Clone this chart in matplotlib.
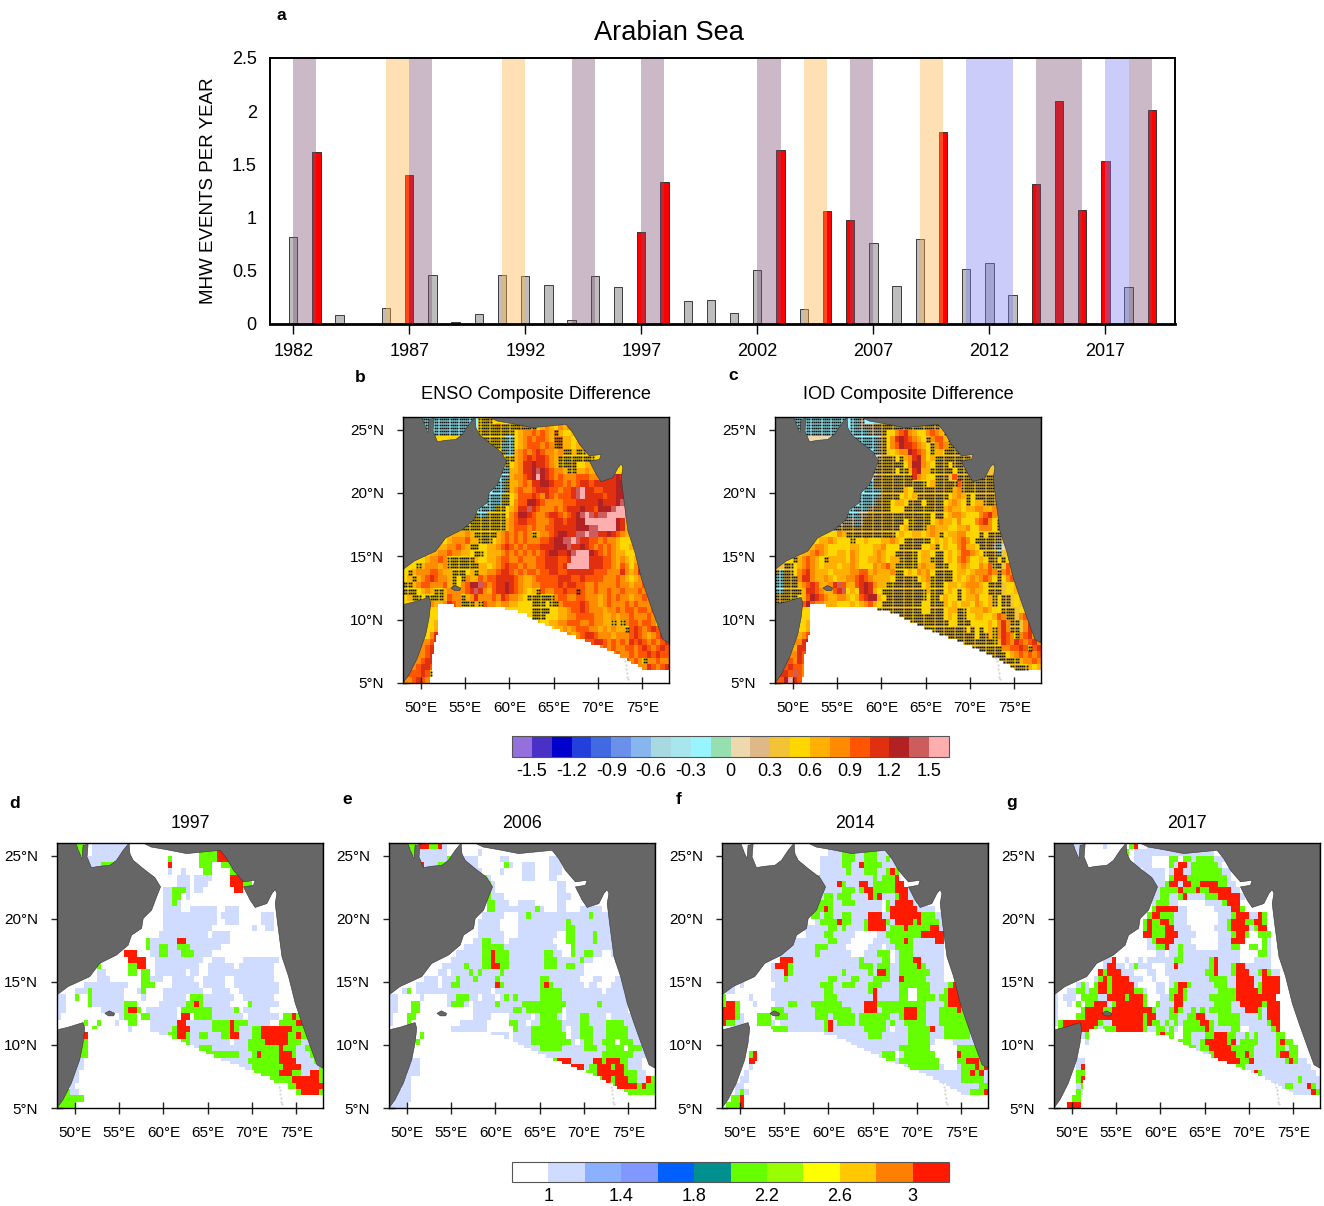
import numpy as np
import matplotlib
matplotlib.use('Agg')
import matplotlib.pyplot as plt
from matplotlib.colors import ListedColormap, BoundaryNorm
from matplotlib.colorbar import ColorbarBase
from matplotlib.path import Path

plt.rcParams['font.family'] = ['Liberation Sans', 'DejaVu Sans']

W, H = 1324, 1206

# panel a
years = list(range(1982, 2020))
events = [0.82, 1.62, 0.08, 0.0, 0.15, 1.40, 0.46, 0.02, 0.09, 0.46,
          0.45, 0.37, 0.04, 0.45, 0.35, 0.86, 1.33, 0.22, 0.23, 0.10,
          0.51, 1.64, 0.14, 1.06, 0.98, 0.76, 0.36, 0.80, 1.80, 0.52,
          0.57, 0.27, 1.32, 2.10, 1.07, 1.53, 0.35, 2.01]
enso_years = [1982, 1987, 1994, 1997, 2002, 2006, 2014, 2015, 2018]
iod_years = [1986, 1991, 2004, 2009]
nina_years = [2011, 2012, 2017]
year_ticks = [1982, 1987, 1992, 1997, 2002, 2007, 2012, 2017]
count_ticks = [0, 0.5, 1, 1.5, 2, 2.5]
count_labels = ['0', '0.5', '1', '1.5', '2', '2.5']

# coastlines
arabia_lon = [48, 50.11, 50.56, 50.83, 50.94, 51.51, 51.39, 51.88, 52.82, 53.96, 54.71, 55.46, 56.14,
              56.22, 56.59, 57.72, 59.04, 59.68, 59.23, 58.67, 57.72, 57.54, 56.41, 56.03, 54.71,
              52.82, 51.69, 49.24, 48]
arabia_lat = [26, 26, 25.16, 24.76, 25.82, 25.9, 24.9, 24.05, 24.16, 24.23, 24.63, 25.42, 26,
              25.16, 24.63, 23.97, 23.26, 22.52, 21.73, 20.68, 20.02, 19.23, 18.7, 17.91, 17.12,
              16.46, 15.41, 14.62, 13.96]
india_lon = [57.69, 58.63, 60.36, 62.62, 64.51, 66.39, 67.15, 67.9, 69.03, 70.35, 70.16, 69.03, 69.79,
             70.35, 71.67, 72.24, 72.61, 72.8, 72.61, 72.88, 73.37, 74.12, 74.87, 75.63, 76.57,
             77.33, 78, 78]
india_lat = [26, 25.68, 25.47, 25.16, 25.29, 25.42, 24.76, 23.84, 22.92, 23.05, 22.65, 22.52, 21.47,
             20.89, 21.2, 22, 22.31, 22, 21.2, 19.62, 16.99, 15.41, 13.3, 11.72, 9.87,
             8.42, 8.16, 26]
somalia_lon = [48, 49.24, 50.94, 51.13, 50.94, 50.56, 49.62, 48.68, 48]
somalia_lat = [11.19, 11.4, 11.77, 11.32, 10.14, 8.82, 6.97, 5.66, 5]
socotra_lon = [53.4, 53.9, 54.5, 54.4, 53.8]
socotra_lat = [12.5, 12.7, 12.5, 12.3, 12.3]
maldives_lon = [72.95, 73.05, 73.1, 73.2, 73.25, 73.3, 73.35]
maldives_lat = [7.0, 6.7, 6.4, 6.1, 5.8, 5.5, 5.3]
nodata_lon = [52, 58.6, 61.6, 64.6, 68.35, 72.1, 75.1, 78.2, 78.2, 51, 51.5, 52]
nodata_lat = [11.15, 11.05, 10.5, 9.4, 8.4, 7.3, 6.1, 6.1, 4.8, 4.8, 8, 9]

# colour keys of the grids below, 0.5 degree cells, north to south
diff_key = {'a': -0.2, 'b': 0.07, 'c': 0.37, 'd': 0.52, 'e': 0.67, 'f': 0.82,
            'g': 0.97, 'h': 1.12, 'i': 1.27, 'j': 1.42, 'k': 1.6}
cat_key = {'b': 1.1, 'g': 2.1, 'r': 3.1}

enso_rows = [
    "....AA.AAA AAAAAA.DDE",
    ".....A.AAA AAAAAA.DDD DEDDDDEDDD defedfe",
    ".......AAA AAAAAA.DDD DDDDDdeffg fgfeFedded d",
    "......dddd dddddddDDD DDDAAdefgf ggfeFFeedd e",
    ".......... .........D DDAAAdefgg gfgfEFeede ed",
    ".......... .......... ..DAAefgfg hgffefDDeD Deee",
    ".......... .......... ...DDefghg hhgfeEDDDD DDDd",
    ".......... .......... ...Ddefhhi hhgfeDDDEd deee",
    ".......... .......... ..AAeefhhi jihgffeDDe efee",
    ".......... .......... ..AAeffghi kihgfgfffg ggfffghhih",
    ".......... .......... .AADeefgfh hiihggfgfg hhghhhhhii",
    ".......... .......... AAADefgffg hhhggfgghj khhgghhhii",
    ".......... .........A AADDdegggh gfhgfggghj khhhhghhii j",
    ".......... .........A AADDdfggii hgffffgggh hhhhihhhij kf",
    ".......... .......AAA ADDdefhhjh gfffgfghhh ihhgiiijkk gf",
    ".......... ......DAAD DDDdfgiihg ffghhgfghi jkjhjjkkkk fe",
    ".......... .....DDDDD DDDefghhgg fffghhghhi ikkkkkkkih ed",
    ".......... ...DDDDDDD DDDefgggfg ffgghhhhhi iijjkkkkih ed",
    ".......... ..eefeDDDD DefgfgfgfD effghiihhj jkjjhhihgf ed",
    "......dded efffgeeDDD defgfgfgff fgghiijjkj hhggfgffed dd",
    "......ddee ffgfeDDdde efghgfgfgg ghhhiiijhh ihgfgfgfed de",
    ".....deeff gffeedDDde eefgfgfgfg fghiihhijk kkihgfgfee dd",
    "...ddeffgf DDDDDDedde efggffgfff gghhhgghkk kkhhhggfef ed",
    "..dDefffef DDDDDDDeed efghggfgff gghhhghkkk kkhhhggfeg fd",
    "dDefffggfe eDDDdeDeef fghhgfgfgg fgghhgghhh hhhgggfffh fe",
    "deDefghgff eDdDfeegfg ghhhhgfeef ggggghhhgg hggggfffgf ed",
    "DDefggfffg eDdfgiijgf ghhihgfeef fgggghghhg gffgffffgf fe",
    "DDDdefeDDe ffffghjhfe ghhihgfede DgffgghggG gffgffgffg ff",
    "deDDdDDDDe gffDefhfff gfhgffedDD DDDDfggffg gfffefgfgf fe",
    "ddddddfeef hgfDDDeDgf feffeedddD DDdDDfgggg hgffefgfff gf",
    "......ddee ddddddddde eedddddddD DDDddeefgg hgfffeffgf ggf",
    "......ddee dddddddddd dddddddddD DDdddeeffg gggffeefef fgff",
    "......defe dddddddddd ddddddddde eddeeffggg ffgffeeDeD fggf",
    "......deff dddddddddd dddddddddd ddddeefefg ggffefefee Dghgf",
    ".....dfhhf dddddddddd dddddddddd ddddddefef ghhgfffeff fghgfe",
    ".....fghif dddddddddd dddddddddd dddddddeef fgghhgfgfg fhghgfg",
    "....fghgfe dddddddddd dddddddddd ddddddddde feggfgfgff ggfghgf",
    "....fghgfe dddddddddd dddddddddd dddddddddd dddeffefgf fgfgghg",
    "...fghhgfe dddddddddd dddddddddd dddddddddd ddddddefef gfgfDffg",
    "..fghhgDef dddddddddd dddddddddd dddddddddd ddddddddde gfgffhgf",
    "..gghgDDe",
    ".fghgfDe",
]

iod_rows = [
    "....AA.AAA AAAAAA.AAB",
    ".....A.AAA AAAAAA.AAB BBCCCCCCCC CCCCCCC",
    ".......AAA AAAAAA.AAA ABBBCddfgh feddfgfeCC C",
    "......bbbb bbbbbbbAAA AAABCdfhih gfedCfggeC C",
    ".......... .........A AAABCdfgih hgfedCfgfD CC",
    ".......... .......... ..ABCcdeff ihgfdDeeDC CCC",
    ".......... .......... ...BCCCdDe fhifdeDCCC CCCC",
    ".......... .......... ...CCDCCDd fiifedDCDd CCCC",
    ".......... .......... ..BCCCCdDD ehieeDDCCC dDCC",
    ".......... .......... ..BCCDCCDC DhfeddDCCc gCCCCCCCCC",
    ".......... .......... .ACCCCCCDC CCCDdeDCCC CgCCCCCCCC",
    ".......... .......... AAAACCCCDe dDCCCCCCCD efCCDCCCCC",
    ".......... .........A AAABCCCDde deDCCCCCDd efeDdCCCCC C",
    ".......... .........A AABCCDdeed CCCdDCCDde fedCdeeCCC C",
    ".......... .......AAA ABCCCDdddC CCCDDCCCef eedeeffeef C",
    ".......... ......AAAB BCCCCCCDCC CCDDDdCCde ffedddfghf eC",
    ".......... .....BBBAB CCCCCCCCCd DDCCDdefee dfdddfghfd C",
    ".......... ...BCCCCCC CCCCCCCCde DCCDefeeed deefddfffd C",
    ".......... ..ddfeCCCC CCCCCDCded deedefeDde effdddCdCC C",
    "......dded eefedddDdd edddeefedD CCCCDdeded efgfdDCCCC B",
    "......deef fedddddeed ddeefdddCC CCCddeDded dfgeedCCCB A",
    ".....deefg feddeedfed ddefeddDCC CDdeedDCde deggfedCCC A",
    "...dDefgfe dDeeeedfed deefedeeDC CDdeeDCCde dfgfddedCC dC",
    "..CCdefgfe deeedeefed ddfefgeDDD DDefeeDCDd defeddfegC C",
    "CACCdfghfe eedeeeeffg gefeeefDDd edfefdCCCD deedefffgf C",
    "AACCCfhhfe efedeeffgh gfeeeedDCC CCdefDCCCC dedefefgfd C",
    "AACCCefghg eefhjgeegh ihfeeDDCCC CCCdeDCDde edefffedDC C",
    "AACCCDehhg feeghjdedh ihedDDCCCC CCCDeDCCde dCdefeedDC D",
    "CCCDDdegih gfeeffedeg hiiedCCCCC CCCDdDCded dCdeefddeC dCC",
    "CCDddfgigf feeedddede fgedCCCCCC CDDddCCDed edeedfedeC dCC",
    "......ddee dddddddddd dddDCCCCCC CCDddCCCde eCDdeeefed dDCC",
    "......ddee dddddddddd dddddCCCCC CDCDCCCCde dCCddeedde gfCC",
    "......deed dddddddddd dddddddCCC CCCCDCCCCd dDCCdddded fhfCC",
    "......deff dddddddddd dddddddddd DCCCCDCCCD CCCdCdDdeD fhfCC",
    ".....efgfe dddddddddd dddddddddd ddddddCDCC CDCCCdCCeD fhgfD",
    ".....fhife dddddddddd dddddddddd ddddddddDC CCDCCCDCCD ehgfhgf",
    "....ehhgfe dddddddddd dddddddddd dddddddddd CCCCCDCCDC DffgghgD",
    "....fhgfee dddddddddd dddddddddd dddddddddd dddCCCCDCC CDdefgfgf",
    "...gfhgfe. dddddddddd dddddddddd dddddddddd ddddddCCCC CCCCDeffg",
    "..ghggfe.. dddddddddd dddddddddd dddddddddd ddddddddCD CCCDCDDed",
    "..hgjgf",
    ".gikhgf",
]

y1997_rows = [
    "....gg..bb bbbbbb",
    ".....g..bb bbbbb..... .......... ..ggggrrr.",
    ".......bbb bbbb...... .....g.... ..ggggrrrg",
    ".......bbb gggb...... .....r.... ..ggg..ggg",
    ".......... .......... .....b..b. ...gg....g gg",
    ".......... .......... .......bbb .bbbb....r rrg",
    ".......... .......... .......bbb .bbb.....r rrgg",
    ".......... .......... ....bbgggb .bb....... rr",
    ".......... .......... ....bbgg.b",
    ".......... .......... ....bbgb..",
    ".......... .......... ....bbbb.. bbbbbb..bb b",
    ".......... .......... ....bbbbbb bbbbbb.bbb b.....bbb",
    ".......... .......... ....bbbbbb bbbbbb..bb b.....bbb",
    ".......... .......... ....bbbbbb bbbbb..... ....b..bb",
    ".......... .......... ...bbbbbbb bbbb.bbbb",
    ".......... .......... gbbbbbbrrb bbbbbbbbb.",
    ".......... .......... gbbggbbggg bbbbbbb",
    ".......... .....rrr.. .bbggbbbgg gbbbb",
    ".......... ......rrrr ..bbbbbbbb bbb..bbb.. ..bbbbbbbb",
    ".........g ......ggrr ..bbbbbbbb bb..bbbbbb .bbbbbbbb",
    ".........b b.....gg.g g.bbbbbbb. bb..bbbbbb bbbbbbbbb",
    ".........b bb.......g gbbb..bbbb b..bbbbb.. bbbbbbbbb",
    "......bbbb bbbbbb...g gg....bbbb bb.bbbbb.. bbbbbbbbbb",
    "....bbbgbb bbbbb...bg ....bbbbbb bbb..bbbb. .bbbbbbbbb",
    "bb..g..gbb bbbbb....b ....bbbbb. gggbbbbbbb ..bbbbbbb",
    "bb.....gbb bbbbbggg.. ...bbbbbbg grgbbbbbb. ...gbbbbbb",
    "bb........ bbbbbgrrg. bbbbbbb.gg gggggbbbbb g.bbbbbb..",
    "b......... ....bggg.g gbbbbbb.rr .ggggbbbbb bb.bbbbbbb .ggrg",
    "......g..g ...b..gg.. .bbbbbbrrb bbbbbggggr gggbbbbb.. ggggrrg",
    "........g. ......b... .bbbbbgrrr bbbbbggggr gbbbggrrrr rrrgggg",
    ".....gr... .......... ..bbbggrrg bbggbbbggr rbbbggrrrr rrggrggg",
    ".....gg... .......... ....bbbggg bbbbbbbbb. bbbggggrrr rrgggbbgg",
    ".....gg... .......... .......... .bgggbbbbb bbbggggggg rgggbbgg",
    ".....gg... .......... .......... ...ggggggg gbbbgrgggg rrrgbbbggb",
    "....bb.... .......... .......... ......bbbb bbbggggggg rrrrbbbbgg",
    "....bb.... .......... .......... .........b bbbbgggggg grrrrbbbbg",
    "...bb..... .......... .......... .......... ....gggggg rrrggbbrrg",
    "...bb..... .......... .......... .......... ........gg gggrrrrrrg",
    "...b...... .......... .......... .......... .......... ..ggrrrrrr",
    "..gbb..... .......... .......... .......... .......... ....grrrrg",
    ".ggggg....",
    "gggg......",
]

y2006_rows = [
    "....gg.rrg grb",
    ".....g.bbb bbb....... b",
    ".......bbb bbbgg..bbb .....bb... ......bbb",
    ".......rbb bgg....bbb ......gb.. bbb...bbb",
    ".......... ........bb b....b.... bbb...bbb.",
    ".......... .......... .gb....... bbb...bb..",
    ".......... .......... ..gb...... ........bb",
    ".......... .......... ..gb...... ........bb",
    ".......... .......... ..gbbb.... ........bb b",
    ".......... .......... ..ggbbb..b bbb.....bb",
    ".......... .......... ..ggbbbbbb bbbgb...bb ...bbbbb",
    ".......... .......... .bbbbb...b bgbbbbbbbb bbbbbgbbbb bbb",
    ".......... .......... bbbbb....b bbbbbbbbbb gbbbbbbbbb gbb",
    ".......... .......... bbbbb....b bbbbbbbbbb ggbbbbbbbb ggb",
    ".......... .......... bbbbbb...b bbbbbbbb.. ggbbbbgbbb bbb",
    ".......... .........b bggbbb.bbb bbbbbbb... ggbbbbgbbb bbb",
    ".......... .......bbb bgggggbbbb bbbbbbbb.. .gbbbbbbbb bbb",
    ".......... .....bbbbb bggrgggbbb bbbbbggbb. .gbbggbb.. bbb",
    ".......... ....bbbbbb bggrgggbbb bbbbbgggbb bbbgbb.... .bb",
    ".......... ..bbbbbgbb bggrrggbbb bbbbbgggbb ggbb...... ..b",
    ".......... .bb.bbbbgb gbbbbgbbbb bbbbbbbbbb bbbb...... ....b",
    "........bb b.bbbgbbbg bbbbgbbbbb bbbbggbbbb bbb...bb.. .bb",
    "......bbbb b.bbggbbbb bbbbrgbbbb bbbbgrgbbb bbbb.bb... bbb",
    "...bg.bbbb bbbbbbbbbb bbb.bbbbbb bbbbgggggb bbbbbbbb.b bbb",
    "bb.....b.. ...bbgggbb .bbb.bgbgb bbbbgggggb bbbbbbbbbb bbbb",
    "bb...gg... ...bgggb.b bbbbgbbbbb gggggggggg bbbbbbbgbb bbbb",
    "bb...gg... .........b bbbbbbbbgg bgggggggg. bbbbbbbbbb bbbb",
    "b...gg.... .........b bbb....bbb bb.bggggb. bbbggbbbb. bbbbbb",
    "b...g..... ......bbbb bb.....ggb b.bbgggggb bbbggbbbbg gggbbbb",
    ".......... ....bbbbbb bb......gb bbgggggggb .bbgggbbbg ggggbbbb",
    ".....g.gg. ....bbbbbb b.bbbbb.bb bbgggggggg .bbgggbbbg ggggbbbb",
    "......g.g. ....bbbbbb bbbbbbbbbb bbgggggggg gb.bggbbgg g.gggbbb",
    ".......... .......... .bbbbbbbbb bbbbgggggb bbbbgggbbg ggg.gggbb",
    ".......... .......... .....bbbbb bbbbbbbbbb bbbbbbbbgg gggggbbb",
    ".....bb... .......... .........b bbbbbbbgrr rbbbbbrrgr rrggbbb",
    "....bbb... .......... .......... bbgbbbbgrr rrrrbggrrr grrgbbb",
    "....bbb... .......... .......... .......... rrrrgggrrr rrrgggbb",
    "...bb..... .......... .......... .......... ....rrggrr grrrggbbrg",
    "...bb..... .......... .......... .......... ........gg grrrrrgrgg",
    "..bbb..... .......... .......... .......... .......... gggggggggg",
    ".bbbb..... .......... .......... .......... .......... ...gbbgrrr",
    "bbbb......",
]

y2014_rows = [
    "..........",
    ".......... .......... ....bbbggg bbgggbbbb",
    ".......... .......... ..bbbbbggg bbgggbbgb",
    ".......... .......... ..bbbbbggb brggggbbbb",
    ".......... .......... ..bbbbbbgb bbgggbbgrg",
    ".......... .......... .gbbbbbbbb bbbbgbgggr",
    ".......... .......... ggbbbbrgbb brrbgggggr r",
    ".......... ......r... ggbbbbbggg bgrrgggggr rrb",
    ".......... .......... .bbggbgggb bbbrgrbbbg rrbb",
    ".......... .......... bggggbbggg bbbbbb.gbr rrrb",
    ".......... .......... bggrgbbbbb bbbbbb.grr rrrrbbbb",
    ".......... .......... ggbggbbggb bbbrrrbbrr rrrrrgggbb",
    ".......... .......... .bggggrggb bbgrrrrgbr rrrgrggggb",
    ".......... ........bb bbbbggbgbb bbgrrrrbgg grgggggrrb",
    ".......... .........b bbbggbbbbb .....bbggg gggggrrrrr",
    ".......... .....bbbbb bbbbggbbb. ....bbbbgg grgbbbbbrr",
    ".......... ...bbbbbbb bgggbbbb.. ...bbb.bbg gggbbbbbbb",
    ".......... ..bbbbbbbb bgbbbbbbb. ..bbbggg.b gggbbbbbbb",
    ".......... ...rrrbbbb bbbbbbbbbb bgbbbbgg.b gggrrbbbbb",
    ".......... .brrrgbbbb bbbbbbbbbb bgggbgggbb ggggrgbbbb",
    "...bb..... .bbbrgbbbb bbbbbbbgbb bbbgbrrgbb gggggggbbb",
    "...bb..... .bbbgbbbbb bbbbggbbbg gbbbggggbb rgggggbbbb",
    "..b.b..... ..bbbbbbbb bbgggbbggg bbbgggbbbb gggggggbbb bgrrr",
    ".bb....... .bbbbbbbbb bbbggbbbbb bbbgrbbbbb gg..gggbbb grrrrr",
    "g.....b... .bbbbbbbbb bbbgggbbbb bbbbrbbbbb gg..ggggbg grrrgg",
    "grrg...b.. ..bbbggbbb gggggggbbb bbrrrggggg ggggggbbbb grrrggg",
    "rrrg...... .gggbbbbbb bggggggggb bbrrrbgggg grrrggbbbg gggrgggg",
    "rrrgb...gg g.gggbbbbb bgggbggggg bgggggggbb grrrggbbbg ggggggggg",
    "rggbb...gg gb.bbbbbbb bbbgrbgggg bggggggbgb bgggggbbbg gggggggg",
    "..bb...... .ggggbbbbb bbbgrbbbbb bbgggggb.b bbgggggrbb gggggggbg",
    ".......... gggggbbbbb bbbbbbbbbb bbbgggbbbb bbgggggbbb ggggggbbb",
    ".......... rgggggrbbb bbbbbbbbbb bbbbbbbbbb bbgggggb.. ..bbbbbbb",
    ".......... .......... ..ggggbbbb bbbbbbbbbb ggggggg... ...ggggggb",
    "......gr.. .......... .....bbbbb bbbbbbggg. bggggggg.. ...rgggggb",
    "......rr.. .......... .........b bbbbbggggb ggggggggg. ...ggrrrgr",
    "......b... .......... .......... ....bbgggg bbgggggggb ...bgggrgr",
    ".....b.... .......... .......... .........b bbbbbbbbbb bbbbggrgrb",
    "....bb.... .......... .......... .......... ......bbbb bbbbgggggb",
    "...bb..... .......... .......... .......... .......... bbbbbbbbgg",
    "...bgb.... .......... .......... .......... .......... bbbbbbgggr",
    "..ggr.....",
    ".gggr.....",
]

y2017_rows = [
    "....bb.... .b.....gr. .bb",
    ".....b.... ......g.bb bbbbbbbbbb bbbbbb",
    ".......... ........bb bb....gg.g gbggggbbb",
    ".......... ........bb bb....gbrr bggggggb",
    ".......... ..........b bbbb.brrbb gggggggbb",
    ".......... .......... .bbbb.grrr gggggggggb",
    ".......... .......... .bbbbgrrbr rggrrrrggb b",
    ".......... .......... ..bbggggrg ggrggrrrrr bb",
    ".......... .......... ..bbggbbgr bbbbgggrrr rrb",
    ".......... .......... ..bgggbb.. ....bbbbgr rr",
    ".......... .......... ..grrrrrbb ......bbbb rrg",
    ".......... .......... .grrgggbbb .......bbb grrrbbrg",
    ".......... .......... grggrrgbbb .......bbg rrrggrrg",
    ".......... .......... grgggrrbbb b.....bbbg rrrrbgrr",
    ".......... .......... rrgggrrrbb bb.....bbb grrg..ggg",
    ".......... .......... .bgrrrrbbb b......bbb rrr....gb",
    ".......... .......... .bbggrbbgb bb.....bbb gg..gg.gb",
    ".......... ..b....... ...bb.bbgb bbbbbbbbbb bb....ggb",
    ".......... .bbr..b..b .bbbbbbggb bbbbbgrbbb bb...bbbb",
    ".......... .brrbb.bgb bb...bbrbb bbbbbgrbbb grrbbbbbb",
    ".......... rgrrrbbb.. .bb..bbbbb bbbbggrbbb grrrbbgrgbb",
    ".........b grgrrrrbbb ..b...bbbb bbbbbggggb brrrrbbrrrr",
    ".....bgb.g rrgrrrrrb. ...bb.bgrr gbbbbbgggb brrrrbgrrrr",
    "...bbggbgg rrgrrrrrgg b..bb.ggrg bbbbbbbggg grrrrrgrrrr",
    "b.bbb.gggg bbrrrrgrrr g...bbgrrg bbbbbggggg grrrrrrrrr",
    "b..b.g.ggr rrbgrrrrrr g..gbbbrrb bbbbbbgggg bbrrrrrgrrr",
    "b.....grrr rggrrrrrrr rrgbbbgrgb bgbgbggggg bbbrrrgbrrr",
    "b....ggrrr rrrrrrrrrr grrbbbggbb ggrrbbbggg ggbbbbgbrrr",
    "bgrrrrrrrr gbbrrrrrrr grggbgbgbg gggrrgbggg ggbbbbbbgrr",
    ".grrrrrrrg bgggrrrrrr gbbggbgb.g ggggrgbbbb gg..bbbbbgr",
    "..ggbrbgg. bbbgrrrrrg gbbgrgg..g gbbbggrrrg gbbgbgbbbb gg",
    ".......bb. bgggbgggbg bbgrgggbgg gbbgrrrrrg rbggggbbbb grgg",
    ".......... ...ggggggg bbgrrggggg ggbggrrrrr gggggbbbbb ggbgg",
    ".......... .......... .bbbbbbbrg rrbbbgrrrr rggrgbbbbb grrgg",
    ".....bb... .......... .........g grrbbggrrr rrggrbbbbb bbgrgbb",
    ".....br... .......... .......... .bbbggrrrr rggbbbbbbb bbbbbbbb",
    ".....gg... .......... .......... .....bbbrr rbbbbrgbbb bbbbbbbbb",
    ".....gr... .......... .......... ........br bbbbbggbbb bbbbbgbbbb",
    ".....bg... .......... .......... .......... ....bbbggb bbggbbbrgb",
    ".....gb... .......... .......... .......... ......bbbb bbbbbbbbrg",
    "....gg.... .......... .......... .......... .......... bbbbbbgggb",
    "...rrrr... .......... .......... .......... .......... ...bbbgggb",
]

diff_ticks = [-1.5, -1.2, -0.9, -0.6, -0.3, 0, 0.3, 0.6, 0.9, 1.2, 1.5]
diff_labels = ['-1.5', '-1.2', '-0.9', '-0.6', '-0.3', '0', '0.3', '0.6', '0.9', '1.2', '1.5']
cat_ticks = [1, 1.4, 1.8, 2.2, 2.6, 3]
cat_labels = ['1', '1.4', '1.8', '2.2', '2.6', '3']
lon_ticks = [50, 55, 60, 65, 70, 75]
lat_ticks = [5, 10, 15, 20, 25]

diff_colors = ['#9370DB', '#4B30C8', '#0000CD', '#2440DC', '#4169E1', '#6A90EA', '#87B5EE', '#A8D8E0',
               '#A8E6EE', '#98F5FF', '#98DFB0', '#EED8AE', '#DEB887', '#F2C435', '#FFD700', '#FFB000',
               '#FF8C00', '#FF5500', '#E03010', '#B22222', '#CD5C5C', '#FFAEB0']
cat_colors = ['#FFFFFF', '#D0DCFF', '#8AB0FF', '#8098FF', '#0060FF', '#009090', '#66FF00', '#99FF00',
              '#FFFF00', '#FFC800', '#FF7F00', '#FF1A00']

diff_cmap = ListedColormap(diff_colors)
diff_norm = BoundaryNorm(np.arange(-1.65, 1.66, 0.15), 22)
cat_cmap = ListedColormap(cat_colors)
cat_norm = BoundaryNorm(np.arange(0.8, 3.21, 0.2), 12)

lon_edges = np.arange(48, 78.01, 0.25)
lat_edges = np.arange(26, 4.99, -0.25)
lon_mid = (lon_edges[:-1] + lon_edges[1:]) / 2
lat_mid = (lat_edges[:-1] + lat_edges[1:]) / 2
lon_grid, lat_grid = np.meshgrid(lon_mid, lat_mid)
nodata_path = Path(list(zip(nodata_lon, nodata_lat)))
nodata = nodata_path.contains_points(np.c_[lon_grid.ravel(), lat_grid.ravel()]).reshape(lon_grid.shape)


def px_axes(fig, left, top, right, bottom):
    return fig.add_axes([left / W, 1 - bottom / H, (right - left) / W, (bottom - top) / H])


def read_rows(rows, key, fill):
    vals = np.full((42, 60), np.nan)
    dots = np.zeros((42, 60), dtype=bool)
    for j, row in enumerate(rows):
        row = row.replace(' ', '').ljust(60, '.')[:60]
        for i, ch in enumerate(row):
            if ch != '.':
                vals[j, i] = key[ch.lower()]
                dots[j, i] = ch.isupper()
        if fill:
            # mirror the typed cells under the coast, the land polygons hide the rest
            last = np.flatnonzero(~np.isnan(vals[j]))[-1]
            for i in range(last + 1, 60):
                vals[j, i] = vals[j, max(2 * last - i, 0)]
            for i in range(1, 60):
                if np.isnan(vals[j, i]):
                    vals[j, i] = vals[j, i - 1]
            for i in range(58, -1, -1):
                if np.isnan(vals[j, i]):
                    vals[j, i] = vals[j, i + 1]
    vals = np.repeat(np.repeat(vals, 2, axis=0), 2, axis=1)
    dots = np.repeat(np.repeat(dots, 2, axis=0), 2, axis=1)
    vals[nodata] = np.nan
    dots[nodata] = False
    return vals, dots


def draw_map(ax, rows, key, cmap, norm, title, title_size, title_pad, fill=False):
    vals, dots = read_rows(rows, key, fill)
    ax.pcolormesh(lon_edges, lat_edges, np.ma.masked_invalid(vals), cmap=cmap, norm=norm,
                  zorder=1, rasterized=True)
    if dots.any():
        ax.plot(lon_grid[dots], lat_grid[dots], 's', ms=1.35, mew=0, color='#111111', zorder=2)
    for lo, la in [(arabia_lon, arabia_lat), (india_lon, india_lat), (somalia_lon, somalia_lat),
                   (socotra_lon, socotra_lat)]:
        ax.fill(lo, la, facecolor='#666666', edgecolor='#333333', lw=0.4, zorder=3)
    ax.plot(maldives_lon, maldives_lat, '.', ms=1.0, color='#cccccc', zorder=2)
    ax.set_xlim(48, 78)
    ax.set_ylim(5, 26)
    ax.set_xticks(lon_ticks)
    ax.set_xticklabels([f'{v}°E' for v in lon_ticks])
    ax.set_yticks(lat_ticks)
    ax.set_yticklabels([f'{v}°N' for v in lat_ticks])
    ax.tick_params(direction='inout', length=8, width=1, labelsize=11, pad=9, color='#222222')
    ax.tick_params(axis='y', length=9, pad=9)
    ax.set_title(title, fontsize=title_size, pad=title_pad)
    for s in ax.spines.values():
        s.set_linewidth(1)
        s.set_zorder(5)


fig = plt.figure(figsize=(W / 100, H / 100), dpi=100)

# panel a: bars below translucent climate bands
ax_a = px_axes(fig, 270, 58, 1175, 324)
bar_colors = ['#ff0000' if v > 0.85 else '#bdbdbd' for v in events]
ax_a.bar(years, events, width=0.36, color=bar_colors, edgecolor='#222222', linewidth=0.6, zorder=2)
for yr in enso_years:
    ax_a.axvspan(yr, yr + 1, color='#7d5273', alpha=0.4, lw=0, zorder=3)
for yr in iod_years:
    ax_a.axvspan(yr, yr + 1, color='#ffb347', alpha=0.4, lw=0, zorder=3)
for yr in nina_years:
    ax_a.axvspan(yr, yr + 1, color='#8080f5', alpha=0.4, lw=0, zorder=3)
ax_a.set_xlim(1981, 2020)
ax_a.set_ylim(0, 2.5)
ax_a.set_xticks(year_ticks)
ax_a.set_yticks(count_ticks)
ax_a.set_yticklabels(count_labels)
ax_a.tick_params(axis='x', length=7, width=1, labelsize=13, pad=7, direction='out')
ax_a.tick_params(axis='y', length=0, labelsize=13, pad=9.5)
ax_a.set_ylabel('MHW EVENTS PER YEAR', fontsize=13.5, labelpad=11)
fig.text(669 / W, 1 - 33 / H, 'Arabian Sea', fontsize=19.6, ha='center', va='center')
for s in ax_a.spines.values():
    s.set_linewidth(1.4)
    s.set_zorder(5)
ax_a.spines['bottom'].set_linewidth(2)

# panels b, c
draw_map(px_axes(fig, 403, 417, 669, 683), enso_rows, diff_key, diff_cmap, diff_norm,
         'ENSO Composite Difference', 13.1, 13, fill=True)
draw_map(px_axes(fig, 775, 417, 1041, 683), iod_rows, diff_key, diff_cmap, diff_norm,
         'IOD Composite Difference', 13.1, 13, fill=True)

# panels d - g
draw_map(px_axes(fig, 57, 843, 323, 1108), y1997_rows, cat_key, cat_cmap, cat_norm, '1997', 12.8, 11)
draw_map(px_axes(fig, 389, 843, 655, 1108), y2006_rows, cat_key, cat_cmap, cat_norm, '2006', 12.8, 11)
draw_map(px_axes(fig, 722, 843, 988, 1108), y2014_rows, cat_key, cat_cmap, cat_norm, '2014', 12.8, 11)
draw_map(px_axes(fig, 1054, 843, 1320, 1108), y2017_rows, cat_key, cat_cmap, cat_norm, '2017', 12.8, 11)

# colour bars
cax_1 = px_axes(fig, 512, 736, 949, 757)
cb_1 = ColorbarBase(cax_1, cmap=diff_cmap, norm=diff_norm, orientation='horizontal', spacing='uniform', drawedges=False)
cb_1.set_ticks(diff_ticks)
cb_1.set_ticklabels(diff_labels)
cb_1.ax.minorticks_off()
cb_1.ax.tick_params(which='both', length=0, labelsize=13, pad=4)
cb_1.outline.set_linewidth(0.8)
cb_1.outline.set_edgecolor('#555555')

cax_2 = px_axes(fig, 512, 1162, 949, 1182)
cb_2 = ColorbarBase(cax_2, cmap=cat_cmap, norm=cat_norm, orientation='horizontal', spacing='uniform', drawedges=False)
cb_2.set_ticks(cat_ticks)
cb_2.set_ticklabels(cat_labels)
cb_2.ax.minorticks_off()
cb_2.ax.tick_params(which='both', length=0, labelsize=13, pad=4)
cb_2.outline.set_linewidth(0.8)
cb_2.outline.set_edgecolor('#555555')

# panel letters
for letter, px, py in [('a', 281, 15), ('b', 360, 378), ('c', 733, 375), ('d', 15, 803),
                       ('e', 347, 800), ('f', 679, 800), ('g', 1012, 803)]:
    fig.text(px / W, 1 - py / H, letter, fontsize=12.5, fontweight='bold', ha='center', va='center')

fig.savefig('out.png', dpi=100)
